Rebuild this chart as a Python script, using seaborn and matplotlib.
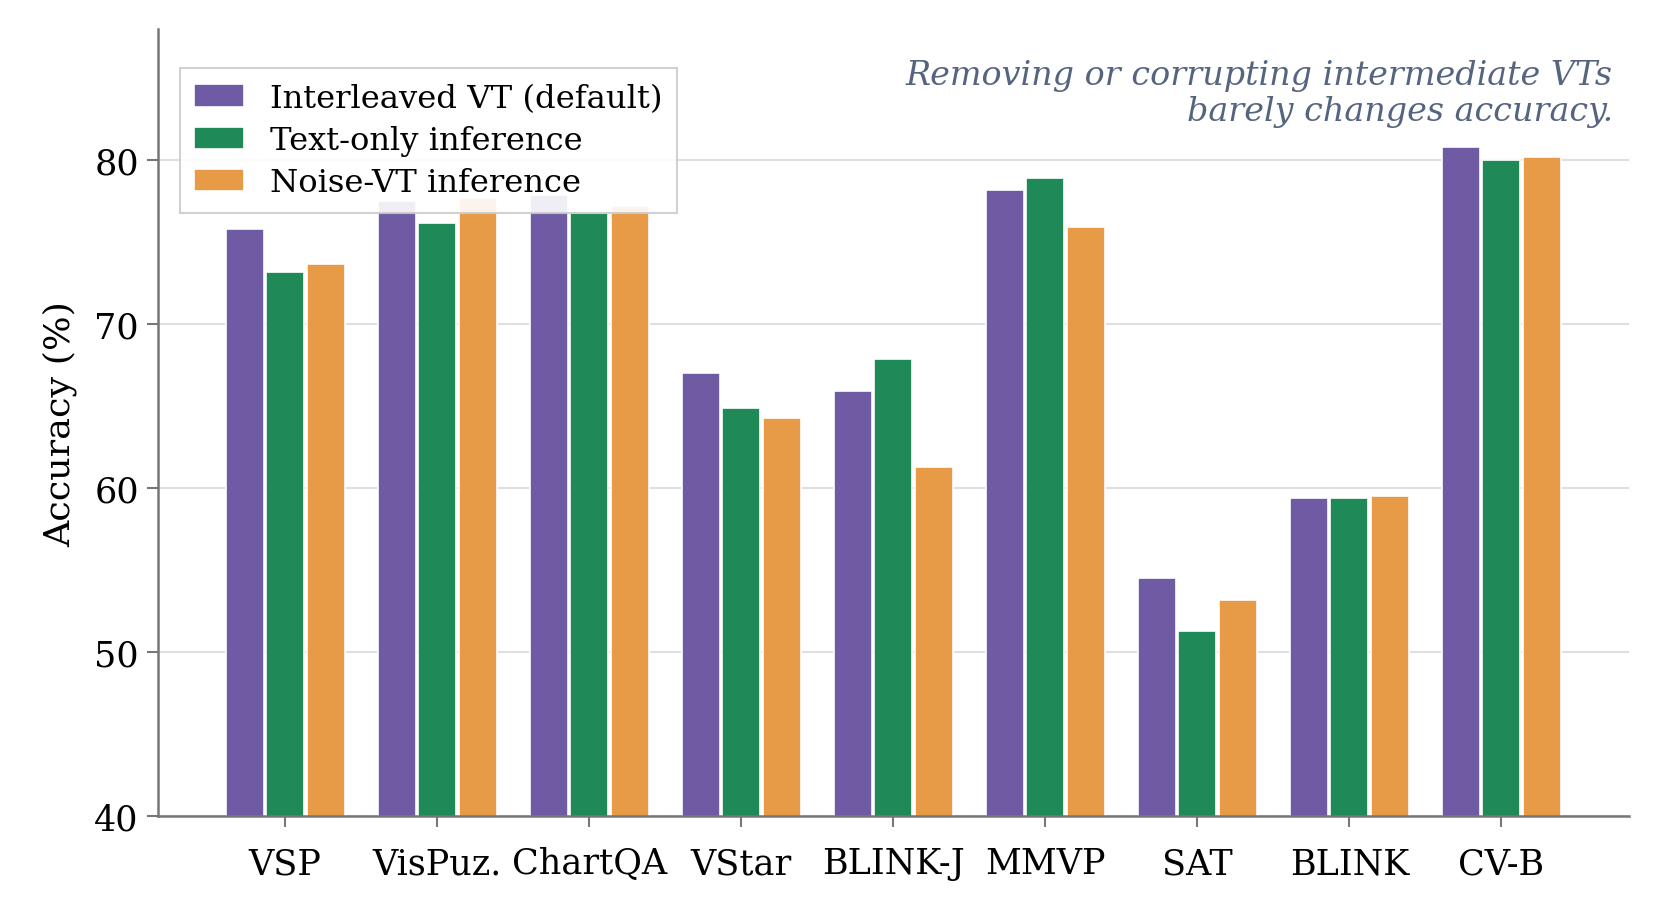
import matplotlib
matplotlib.use("Agg")
import matplotlib.pyplot as plt
import seaborn as sns
import pandas as pd

benchmarks = ["VSP", "VisPuz.", "ChartQA", "VStar", "BLINK-J", "MMVP", "SAT", "BLINK", "CV-B"]
interleaved = [75.8, 77.5, 77.9, 67.0, 65.9, 78.2, 54.5, 59.4, 80.8]
text_only = [73.2, 76.2, 76.8, 64.9, 67.9, 78.9, 51.3, 59.4, 80.0]
noise_vt = [73.7, 77.7, 77.2, 64.3, 61.3, 75.9, 53.2, 59.5, 80.2]
series_names = ["Interleaved VT (default)", "Text-only inference", "Noise-VT inference"]
colors = ["#6f5ba4", "#1f8a57", "#e89b46"]

rows = []
for name, vals in zip(series_names, [interleaved, text_only, noise_vt]):
    for b, v in zip(benchmarks, vals):
        rows.append({"benchmark": b, "setting": name, "acc": v})
df = pd.DataFrame(rows)

sns.set_theme(style="white")
plt.rcParams["font.family"] = ["DejaVu Serif"]
plt.rcParams["xtick.bottom"] = True
plt.rcParams["ytick.left"] = True

fig = plt.figure(figsize=(1659 / 150, 909 / 150), dpi=150)
ax = fig.add_axes([0.095, 0.101, 0.887, 0.866])

sns.barplot(data=df, x="benchmark", y="acc", hue="setting", order=benchmarks,
            hue_order=series_names, palette=colors, width=0.8, gap=0.06,
            edgecolor="white", linewidth=0.8, saturation=1, ax=ax, zorder=2)

ax.set_ylim(40, 88)
ax.set_xlim(-0.84, 8.84)
ax.set_yticks([40, 50, 60, 70, 80])
ax.yaxis.grid(True, color="#dcdfe3", linewidth=1.0, zorder=0)
ax.set_axisbelow(True)
ax.set_xlabel("")
ax.set_ylabel("Accuracy (%)", fontsize=17.5, color="#000000", labelpad=8)
ax.tick_params(axis="both", labelsize=16.8, labelcolor="#000000", length=5.5, width=1.0,
               direction="out", color="#777777", bottom=True, left=True)
ax.tick_params(axis="x", pad=9)
for side in ["top", "right"]:
    ax.spines[side].set_visible(False)
for side in ["left", "bottom"]:
    ax.spines[side].set_color("#777777")
    ax.spines[side].set_linewidth(1.2)

leg = ax.legend(loc="upper left", bbox_to_anchor=(0.015, 0.95), borderaxespad=0,
                fontsize=15.5, frameon=True, fancybox=False, framealpha=0.9,
                edgecolor="#cccccc", handlelength=1.55, labelspacing=0.35,
                borderpad=0.45, title=None)
leg.get_frame().set_linewidth(1.0)
for t in leg.get_texts():
    t.set_color("#000000")

ax.text(0.989, 0.962, "Removing or corrupting intermediate VTs\nbarely changes accuracy.",
        transform=ax.transAxes, ha="right", va="top", fontsize=16, style="italic",
        color="#56657f", linespacing=1.16)

plt.savefig("out.png", dpi=150)
plt.close()
